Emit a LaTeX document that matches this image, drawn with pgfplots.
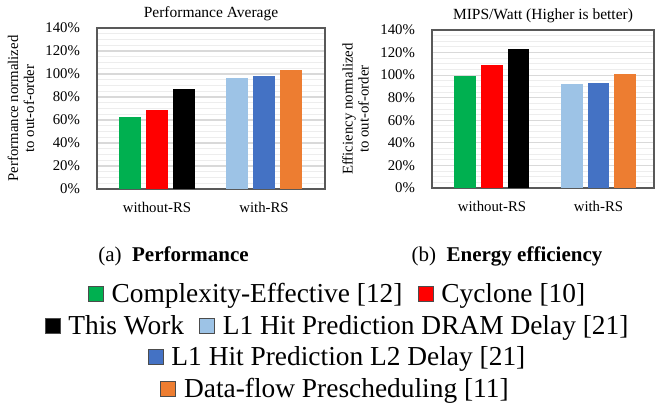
\documentclass[border=0pt]{standalone}
\usepackage{pgfplots}
\pgfplotsset{compat=1.18}
\usepackage{fontspec}
\setmainfont{Liberation Serif}
\definecolor{cgreen}{HTML}{00B050}
\definecolor{cred}{HTML}{FF0000}
\definecolor{clblue}{HTML}{9DC3E6}
\definecolor{cblue}{HTML}{4472C4}
\definecolor{corange}{HTML}{ED7D31}
\pgfplotsset{
  barax/.style={
    scale only axis,
    ybar,
    ymin=0, ymax=140,
    ytick={0,20,...,140},
    minor y tick num=3,
    ymajorgrids, yminorgrids,
    major grid style={draw=black!15, line width=0.6pt},
    minor grid style={draw=black!7, line width=0.5pt},
    major tick length=0pt, minor tick length=0pt,
    xtick={0,1},
    xticklabels={without-RS,with-RS},
    /pgf/number format/assume math mode=true,
    yticklabel={\pgfmathprintnumber{\tick}\%},
    tick label style={font=\fontsize{7.4}{8}\selectfont},
    yticklabel style={xshift=-5pt},
    xticklabel style={yshift=-3pt},
    axis line style={draw=black!65, line width=0.6pt},
    bar width=0.206,
    title style={font=\fontsize{7.75}{8.5}\selectfont, at={(0.5,1)}, anchor=south, yshift=-6pt},
    ylabel style={font=\fontsize{7.4}{8}\selectfont, align=center, anchor=center},
  },
  sqlegend/.style={
    hide axis, scale only axis, width=1pt, height=1pt,
    xmin=0, xmax=1, ymin=0, ymax=1,
    anchor=center,
    legend style={at={(0.5,0.5)}, anchor=center, draw=none, fill=none,
      font=\fontsize{13.7}{15}\selectfont,
      /tikz/every even column/.append style={column sep=6pt},
      nodes={inner sep=1.5pt}},
    legend image code/.code={\draw[##1, draw=black!70, line width=0.4pt] (0pt,-3.75pt) rectangle (7.5pt,3.75pt);\path (10pt,0pt);},
  },
}
\begin{document}
\begin{tikzpicture}
\useasboundingbox (0,0) rectangle (327.5pt,-203.5pt);
% (a) Performance
\begin{axis}[barax,
  at={(48.5pt,-94.5pt)}, anchor=south west,
  width=114pt, height=80.5pt,
  xmin=-0.561, xmax=1.57,
  title={Performance Average},
  ylabel={Performance normalized\\to out-of-order},
  ylabel style={at={(axis description cs:-0.333,0.5)}},
]
\addplot[fill=cgreen, draw=none, bar shift=0pt] coordinates {(-0.252,62.2)};
\addplot[fill=cred, draw=none, bar shift=0pt] coordinates {(0,68.3)};
\addplot[fill=black, draw=none, bar shift=0pt] coordinates {(0.252,87.1)};
\addplot[fill=clblue, draw=none, bar shift=0pt] coordinates {(0.752,96.4)};
\addplot[fill=cblue, draw=none, bar shift=0pt] coordinates {(1,98.1)};
\addplot[fill=corange, draw=none, bar shift=0pt] coordinates {(1.248,103.3)};
\end{axis}
% (b) Energy efficiency
\begin{axis}[barax,
  at={(216pt,-94pt)}, anchor=south west,
  width=111pt, height=79pt,
  xmin=-0.563, xmax=1.521,
  title={MIPS/Watt (Higher is better)},
  ylabel={Efficiency normalized\\to out-of-order},
  ylabel style={at={(axis description cs:-0.345,0.5)}},
]
\addplot[fill=cgreen, draw=none, bar shift=0pt] coordinates {(-0.253,99.1)};
\addplot[fill=cred, draw=none, bar shift=0pt] coordinates {(0,108.9)};
\addplot[fill=black, draw=none, bar shift=0pt] coordinates {(0.249,123.1)};
\addplot[fill=clblue, draw=none, bar shift=0pt] coordinates {(0.75,92.0)};
\addplot[fill=cblue, draw=none, bar shift=0pt] coordinates {(1,92.9)};
\addplot[fill=corange, draw=none, bar shift=0pt] coordinates {(1.249,100.9)};
\end{axis}
% captions
\node[font=\fontsize{10.5}{12}\selectfont] at (86.75pt,-128pt) {(a)\enspace\textbf{Performance}};
\node[font=\fontsize{10.5}{12}\selectfont] at (253.5pt,-128pt) {(b)\enspace\textbf{Energy efficiency}};
% legend rows
\begin{axis}[sqlegend, at={(169pt,-147pt)}, legend columns=2]
\addlegendimage{fill=cgreen}\addlegendentry{Complexity-Effective [12]}
\addlegendimage{fill=cred}\addlegendentry{Cyclone [10]}
\end{axis}
\begin{axis}[sqlegend, at={(169pt,-163pt)}, legend columns=2]
\addlegendimage{fill=black}\addlegendentry{This Work}
\addlegendimage{fill=clblue}\addlegendentry{L1 Hit Prediction DRAM Delay [21]}
\end{axis}
\begin{axis}[sqlegend, at={(169pt,-178.5pt)}, legend columns=1]
\addlegendimage{fill=cblue}\addlegendentry{L1 Hit Prediction L2 Delay [21]}
\end{axis}
\begin{axis}[sqlegend, at={(168pt,-194.5pt)}, legend columns=1]
\addlegendimage{fill=corange}\addlegendentry{Data-flow Prescheduling [11]}
\end{axis}
\end{tikzpicture}
\end{document}
